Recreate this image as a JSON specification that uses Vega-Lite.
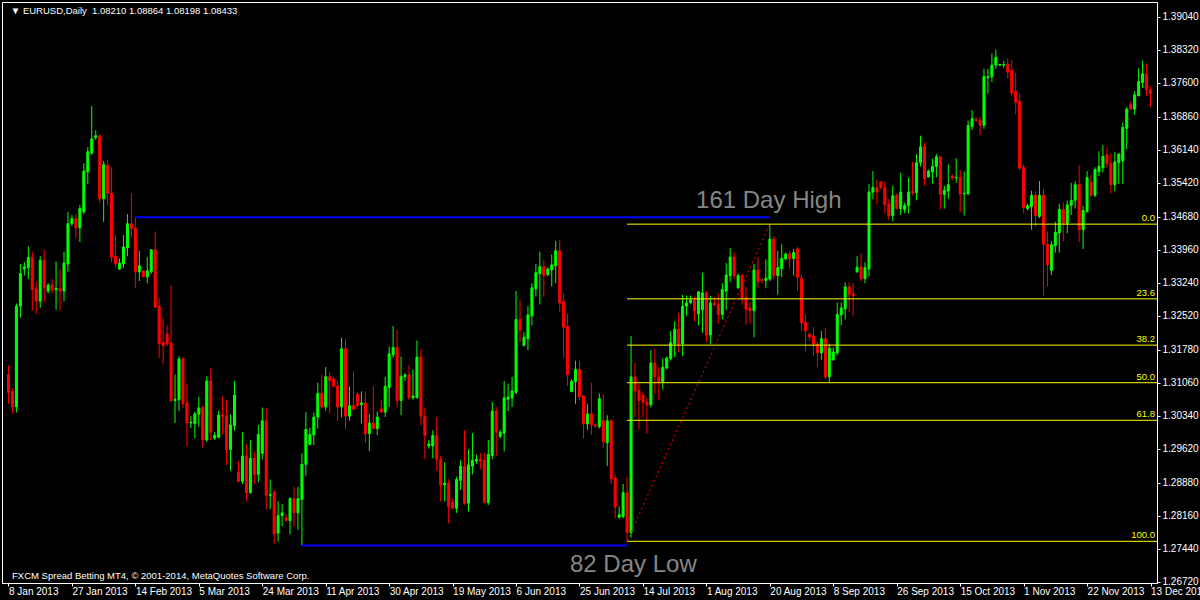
{
"$schema": "https://vega.github.io/schema/vega-lite/v6.json",
"width": 1155,
"height": 581,
"autosize": {"type": "none"},
"padding": {"left": 2, "top": 2, "right": 43, "bottom": 17},
"background": "#000000",
"config": {
  "view": {"stroke": "#ffffff", "strokeWidth": 1, "fill": "#000000"},
  "axis": {"grid": false, "domainColor": "#ffffff", "tickColor": "#ffffff", "labelColor": "#ffffff", "labelFont": "Liberation Sans", "titleColor": "#ffffff", "labelOverlap": false, "labelBound": false, "labelFlush": false},
  "text": {"font": "Liberation Sans"}
},
"datasets": {
"candles": [
{"i":0,"o":1.3124,"h":1.3144,"l":1.3060,"c":1.3085},
{"i":1,"o":1.3087,"h":1.3094,"l":1.3039,"c":1.3053},
{"i":2,"o":1.3053,"h":1.3279,"l":1.3041,"c":1.3273},
{"i":3,"o":1.3273,"h":1.3365,"l":1.3248,"c":1.3344},
{"i":4,"o":1.3354,"h":1.3369,"l":1.3340,"c":1.3359},
{"i":5,"o":1.3357,"h":1.3404,"l":1.3332,"c":1.3379},
{"i":6,"o":1.3379,"h":1.3392,"l":1.3263,"c":1.3309},
{"i":7,"o":1.3311,"h":1.3326,"l":1.3256,"c":1.3284},
{"i":8,"o":1.3284,"h":1.3382,"l":1.3269,"c":1.3373},
{"i":9,"o":1.3373,"h":1.3396,"l":1.3281,"c":1.3313},
{"i":10,"o":1.3306,"h":1.3323,"l":1.3301,"c":1.3319},
{"i":11,"o":1.3319,"h":1.3332,"l":1.3302,"c":1.3309},
{"i":12,"o":1.3309,"h":1.3371,"l":1.3265,"c":1.3312},
{"i":13,"o":1.3312,"h":1.3354,"l":1.3263,"c":1.3306},
{"i":14,"o":1.3306,"h":1.3392,"l":1.3284,"c":1.3367},
{"i":15,"o":1.3365,"h":1.3478,"l":1.3348,"c":1.3453},
{"i":16,"o":1.3453,"h":1.3472,"l":1.3448,"c":1.3464},
{"i":17,"o":1.3464,"h":1.3474,"l":1.3422,"c":1.3444},
{"i":18,"o":1.3444,"h":1.3494,"l":1.3413,"c":1.3486},
{"i":19,"o":1.3479,"h":1.3585,"l":1.3474,"c":1.3568},
{"i":20,"o":1.3566,"h":1.3620,"l":1.3539,"c":1.3610},
{"i":21,"o":1.3607,"h":1.3710,"l":1.3603,"c":1.3638},
{"i":22,"o":1.3641,"h":1.3657,"l":1.3636,"c":1.3645},
{"i":23,"o":1.3645,"h":1.3647,"l":1.3499,"c":1.3507},
{"i":24,"o":1.3507,"h":1.3590,"l":1.3457,"c":1.3582},
{"i":25,"o":1.3580,"h":1.3592,"l":1.3493,"c":1.3519},
{"i":26,"o":1.3519,"h":1.3576,"l":1.3369,"c":1.3380},
{"i":27,"o":1.3382,"h":1.3428,"l":1.3357,"c":1.3365},
{"i":28,"o":1.3354,"h":1.3377,"l":1.3352,"c":1.3367},
{"i":29,"o":1.3365,"h":1.3428,"l":1.3357,"c":1.3402},
{"i":30,"o":1.3400,"h":1.3474,"l":1.3382,"c":1.3453},
{"i":31,"o":1.3453,"h":1.3519,"l":1.3423,"c":1.3442},
{"i":32,"o":1.3443,"h":1.3467,"l":1.3313,"c":1.3348},
{"i":33,"o":1.3348,"h":1.3394,"l":1.3328,"c":1.3361},
{"i":34,"o":1.3350,"h":1.3352,"l":1.3336,"c":1.3337},
{"i":35,"o":1.3337,"h":1.3380,"l":1.3323,"c":1.3350},
{"i":36,"o":1.3348,"h":1.3396,"l":1.3344,"c":1.3396},
{"i":37,"o":1.3396,"h":1.3436,"l":1.3269,"c":1.3271},
{"i":38,"o":1.3273,"h":1.3291,"l":1.3160,"c":1.3191},
{"i":39,"o":1.3194,"h":1.3248,"l":1.3146,"c":1.3187},
{"i":40,"o":1.3212,"h":1.3231,"l":1.3186,"c":1.3191},
{"i":41,"o":1.3192,"h":1.3319,"l":1.3064,"c":1.3067},
{"i":42,"o":1.3067,"h":1.3124,"l":1.3018,"c":1.3070},
{"i":43,"o":1.3069,"h":1.3164,"l":1.3044,"c":1.3158},
{"i":44,"o":1.3158,"h":1.3162,"l":1.3051,"c":1.3060},
{"i":45,"o":1.3062,"h":1.3104,"l":1.2968,"c":1.3018},
{"i":46,"o":1.3018,"h":1.3033,"l":1.3007,"c":1.3020},
{"i":47,"o":1.3017,"h":1.3043,"l":1.2985,"c":1.3038},
{"i":48,"o":1.3037,"h":1.3075,"l":1.3010,"c":1.3051},
{"i":49,"o":1.3052,"h":1.3056,"l":1.2964,"c":1.2981},
{"i":50,"o":1.2981,"h":1.3120,"l":1.2977,"c":1.3110},
{"i":51,"o":1.3110,"h":1.3137,"l":1.2981,"c":1.2998},
{"i":52,"o":1.2985,"h":1.2998,"l":1.2981,"c":1.2991},
{"i":53,"o":1.2987,"h":1.3045,"l":1.2985,"c":1.3035},
{"i":54,"o":1.3035,"h":1.3077,"l":1.2993,"c":1.3033},
{"i":55,"o":1.3034,"h":1.3069,"l":1.2927,"c":1.2960},
{"i":56,"o":1.2960,"h":1.3037,"l":1.2914,"c":1.3014},
{"i":57,"o":1.3012,"h":1.3110,"l":1.3002,"c":1.3079},
{"i":58,"o":1.2911,"h":1.2935,"l":1.2889,"c":1.2891},
{"i":59,"o":1.2891,"h":1.2998,"l":1.2885,"c":1.2946},
{"i":60,"o":1.2946,"h":1.2972,"l":1.2847,"c":1.2866},
{"i":61,"o":1.2866,"h":1.2981,"l":1.2864,"c":1.2941},
{"i":62,"o":1.2941,"h":1.2956,"l":1.2885,"c":1.2906},
{"i":63,"o":1.2906,"h":1.3014,"l":1.2889,"c":1.2993},
{"i":64,"o":1.2952,"h":1.3052,"l":1.2939,"c":1.3023},
{"i":65,"o":1.3023,"h":1.3052,"l":1.2830,"c":1.2860},
{"i":66,"o":1.2860,"h":1.2895,"l":1.2830,"c":1.2862},
{"i":67,"o":1.2866,"h":1.2872,"l":1.2755,"c":1.2776},
{"i":68,"o":1.2778,"h":1.2847,"l":1.2759,"c":1.2816},
{"i":69,"o":1.2816,"h":1.2841,"l":1.2793,"c":1.2822},
{"i":70,"o":1.2811,"h":1.2820,"l":1.2804,"c":1.2805},
{"i":71,"o":1.2805,"h":1.2856,"l":1.2775,"c":1.2853},
{"i":72,"o":1.2853,"h":1.2879,"l":1.2793,"c":1.2822},
{"i":73,"o":1.2822,"h":1.2879,"l":1.2785,"c":1.2853},
{"i":74,"o":1.2851,"h":1.2952,"l":1.2751,"c":1.2928},
{"i":75,"o":1.2928,"h":1.3042,"l":1.2903,"c":1.3004},
{"i":76,"o":1.2971,"h":1.3008,"l":1.2971,"c":1.2993},
{"i":77,"o":1.2992,"h":1.3041,"l":1.2970,"c":1.3031},
{"i":78,"o":1.3031,"h":1.3106,"l":1.3006,"c":1.3083},
{"i":79,"o":1.3083,"h":1.3124,"l":1.3049,"c":1.3053},
{"i":80,"o":1.3053,"h":1.3140,"l":1.3045,"c":1.3119},
{"i":81,"o":1.3119,"h":1.3129,"l":1.3039,"c":1.3110},
{"i":82,"o":1.3114,"h":1.3119,"l":1.3096,"c":1.3098},
{"i":83,"o":1.3099,"h":1.3110,"l":1.3023,"c":1.3053},
{"i":84,"o":1.3053,"h":1.3204,"l":1.3031,"c":1.3180},
{"i":85,"o":1.3180,"h":1.3202,"l":1.3004,"c":1.3033},
{"i":86,"o":1.3033,"h":1.3098,"l":1.3023,"c":1.3056},
{"i":87,"o":1.3056,"h":1.3131,"l":1.3046,"c":1.3048},
{"i":88,"o":1.3081,"h":1.3085,"l":1.3053,"c":1.3056},
{"i":89,"o":1.3058,"h":1.3087,"l":1.3017,"c":1.3062},
{"i":90,"o":1.3062,"h":1.3087,"l":1.2974,"c":1.2995},
{"i":91,"o":1.2995,"h":1.3038,"l":1.2957,"c":1.3018},
{"i":92,"o":1.3018,"h":1.3098,"l":1.3004,"c":1.3006},
{"i":93,"o":1.3006,"h":1.3043,"l":1.2992,"c":1.3031},
{"i":94,"o":1.3049,"h":1.3069,"l":1.3041,"c":1.3042},
{"i":95,"o":1.3042,"h":1.3119,"l":1.3031,"c":1.3098},
{"i":96,"o":1.3096,"h":1.3185,"l":1.3053,"c":1.3169},
{"i":97,"o":1.3167,"h":1.3230,"l":1.3160,"c":1.3183},
{"i":98,"o":1.3183,"h":1.3221,"l":1.3052,"c":1.3067},
{"i":99,"o":1.3067,"h":1.3163,"l":1.3035,"c":1.3120},
{"i":100,"o":1.3119,"h":1.3127,"l":1.3110,"c":1.3123},
{"i":101,"o":1.3123,"h":1.3144,"l":1.3069,"c":1.3073},
{"i":102,"o":1.3073,"h":1.3135,"l":1.3069,"c":1.3077},
{"i":103,"o":1.3073,"h":1.3198,"l":1.3073,"c":1.3162},
{"i":104,"o":1.3162,"h":1.3180,"l":1.3013,"c":1.3033},
{"i":105,"o":1.3033,"h":1.3052,"l":1.2939,"c":1.2991},
{"i":106,"o":1.2968,"h":1.2981,"l":1.2962,"c":1.2972},
{"i":107,"o":1.2968,"h":1.3002,"l":1.2941,"c":1.2991},
{"i":108,"o":1.2991,"h":1.3031,"l":1.2914,"c":1.2939},
{"i":109,"o":1.2939,"h":1.2947,"l":1.2847,"c":1.2883},
{"i":110,"o":1.2883,"h":1.2933,"l":1.2847,"c":1.2887},
{"i":111,"o":1.2887,"h":1.2895,"l":1.2799,"c":1.2835},
{"i":112,"o":1.2845,"h":1.2853,"l":1.2830,"c":1.2832},
{"i":113,"o":1.2832,"h":1.2901,"l":1.2822,"c":1.2895},
{"i":114,"o":1.2893,"h":1.2937,"l":1.2872,"c":1.2924},
{"i":115,"o":1.2924,"h":1.3002,"l":1.2840,"c":1.2843},
{"i":116,"o":1.2843,"h":1.2960,"l":1.2825,"c":1.2927},
{"i":117,"o":1.2924,"h":1.2996,"l":1.2906,"c":1.2937},
{"i":118,"o":1.2935,"h":1.2949,"l":1.2929,"c":1.2939},
{"i":119,"o":1.2939,"h":1.2953,"l":1.2918,"c":1.2935},
{"i":120,"o":1.2937,"h":1.2953,"l":1.2843,"c":1.2845},
{"i":121,"o":1.2845,"h":1.2981,"l":1.2839,"c":1.2950},
{"i":122,"o":1.2947,"h":1.3064,"l":1.2939,"c":1.3044},
{"i":123,"o":1.3044,"h":1.3053,"l":1.2946,"c":1.2998},
{"i":124,"o":1.2989,"h":1.3003,"l":1.2985,"c":1.2998},
{"i":125,"o":1.2996,"h":1.3110,"l":1.2956,"c":1.3073},
{"i":126,"o":1.3070,"h":1.3104,"l":1.3044,"c":1.3075},
{"i":127,"o":1.3073,"h":1.3119,"l":1.3053,"c":1.3088},
{"i":128,"o":1.3085,"h":1.3306,"l":1.3081,"c":1.3244},
{"i":129,"o":1.3244,"h":1.3286,"l":1.3194,"c":1.3221},
{"i":130,"o":1.3187,"h":1.3216,"l":1.3186,"c":1.3205},
{"i":131,"o":1.3202,"h":1.3273,"l":1.3177,"c":1.3254},
{"i":132,"o":1.3252,"h":1.3323,"l":1.3231,"c":1.3313},
{"i":133,"o":1.3311,"h":1.3365,"l":1.3294,"c":1.3346},
{"i":134,"o":1.3344,"h":1.3392,"l":1.3277,"c":1.3359},
{"i":135,"o":1.3359,"h":1.3373,"l":1.3294,"c":1.3340},
{"i":136,"o":1.3342,"h":1.3358,"l":1.3338,"c":1.3354},
{"i":137,"o":1.3352,"h":1.3386,"l":1.3316,"c":1.3363},
{"i":138,"o":1.3361,"h":1.3415,"l":1.3323,"c":1.3394},
{"i":139,"o":1.3394,"h":1.3418,"l":1.3261,"c":1.3280},
{"i":140,"o":1.3283,"h":1.3301,"l":1.3160,"c":1.3227},
{"i":141,"o":1.3229,"h":1.3256,"l":1.3099,"c":1.3123},
{"i":142,"o":1.3087,"h":1.3114,"l":1.3085,"c":1.3109},
{"i":143,"o":1.3108,"h":1.3154,"l":1.3060,"c":1.3135},
{"i":144,"o":1.3135,"h":1.3154,"l":1.3067,"c":1.3075},
{"i":145,"o":1.3077,"h":1.3079,"l":1.2985,"c":1.3017},
{"i":146,"o":1.3016,"h":1.3060,"l":1.3003,"c":1.3038},
{"i":147,"o":1.3038,"h":1.3106,"l":1.2992,"c":1.3014},
{"i":148,"o":1.3014,"h":1.3018,"l":1.3007,"c":1.3012},
{"i":149,"o":1.3010,"h":1.3083,"l":1.3006,"c":1.3071},
{"i":150,"o":1.3023,"h":1.3081,"l":1.2964,"c":1.2977},
{"i":151,"o":1.2975,"h":1.3035,"l":1.2924,"c":1.3023},
{"i":152,"o":1.3023,"h":1.3026,"l":1.2885,"c":1.2896},
{"i":153,"o":1.2898,"h":1.2906,"l":1.2810,"c":1.2835},
{"i":154,"o":1.2812,"h":1.2836,"l":1.2810,"c":1.2818},
{"i":155,"o":1.2814,"h":1.2885,"l":1.2810,"c":1.2866},
{"i":156,"o":1.2866,"h":1.2901,"l":1.2760,"c":1.2779},
{"i":157,"o":1.2779,"h":1.3208,"l":1.2768,"c":1.3119},
{"i":158,"o":1.3119,"h":1.3149,"l":1.3031,"c":1.3088},
{"i":159,"o":1.3089,"h":1.3104,"l":1.3004,"c":1.3067},
{"i":160,"o":1.3079,"h":1.3085,"l":1.3029,"c":1.3063},
{"i":161,"o":1.3064,"h":1.3073,"l":1.2995,"c":1.3058},
{"i":162,"o":1.3058,"h":1.3177,"l":1.3052,"c":1.3149},
{"i":163,"o":1.3149,"h":1.3180,"l":1.3081,"c":1.3119},
{"i":164,"o":1.3119,"h":1.3140,"l":1.3067,"c":1.3108},
{"i":165,"o":1.3108,"h":1.3159,"l":1.3091,"c":1.3140},
{"i":166,"o":1.3138,"h":1.3163,"l":1.3135,"c":1.3160},
{"i":167,"o":1.3159,"h":1.3219,"l":1.3154,"c":1.3194},
{"i":168,"o":1.3191,"h":1.3240,"l":1.3162,"c":1.3223},
{"i":169,"o":1.3223,"h":1.3258,"l":1.3173,"c":1.3190},
{"i":170,"o":1.3191,"h":1.3298,"l":1.3164,"c":1.3273},
{"i":171,"o":1.3273,"h":1.3296,"l":1.3252,"c":1.3280},
{"i":172,"o":1.3281,"h":1.3296,"l":1.3277,"c":1.3286},
{"i":173,"o":1.3286,"h":1.3294,"l":1.3240,"c":1.3263},
{"i":174,"o":1.3256,"h":1.3306,"l":1.3231,"c":1.3304},
{"i":175,"o":1.3265,"h":1.3346,"l":1.3215,"c":1.3302},
{"i":176,"o":1.3302,"h":1.3306,"l":1.3195,"c":1.3210},
{"i":177,"o":1.3210,"h":1.3296,"l":1.3190,"c":1.3280},
{"i":178,"o":1.3280,"h":1.3292,"l":1.3273,"c":1.3276},
{"i":179,"o":1.3277,"h":1.3301,"l":1.3235,"c":1.3255},
{"i":180,"o":1.3255,"h":1.3323,"l":1.3244,"c":1.3309},
{"i":181,"o":1.3306,"h":1.3367,"l":1.3265,"c":1.3341},
{"i":182,"o":1.3340,"h":1.3400,"l":1.3326,"c":1.3380},
{"i":183,"o":1.3380,"h":1.3390,"l":1.3332,"c":1.3340},
{"i":184,"o":1.3313,"h":1.3344,"l":1.3311,"c":1.3340},
{"i":185,"o":1.3340,"h":1.3344,"l":1.3276,"c":1.3291},
{"i":186,"o":1.3292,"h":1.3315,"l":1.3233,"c":1.3266},
{"i":187,"o":1.3269,"h":1.3281,"l":1.3235,"c":1.3263},
{"i":188,"o":1.3263,"h":1.3365,"l":1.3205,"c":1.3352},
{"i":189,"o":1.3352,"h":1.3380,"l":1.3313,"c":1.3326},
{"i":190,"o":1.3331,"h":1.3334,"l":1.3323,"c":1.3329},
{"i":191,"o":1.3329,"h":1.3375,"l":1.3313,"c":1.3334},
{"i":192,"o":1.3332,"h":1.3452,"l":1.3328,"c":1.3419},
{"i":193,"o":1.3419,"h":1.3426,"l":1.3332,"c":1.3340},
{"i":194,"o":1.3340,"h":1.3394,"l":1.3298,"c":1.3357},
{"i":195,"o":1.3355,"h":1.3408,"l":1.3336,"c":1.3377},
{"i":196,"o":1.3376,"h":1.3390,"l":1.3373,"c":1.3387},
{"i":197,"o":1.3387,"h":1.3394,"l":1.3355,"c":1.3376},
{"i":198,"o":1.3377,"h":1.3398,"l":1.3340,"c":1.3390},
{"i":199,"o":1.3398,"h":1.3402,"l":1.3306,"c":1.3336},
{"i":200,"o":1.3334,"h":1.3341,"l":1.3219,"c":1.3237},
{"i":201,"o":1.3238,"h":1.3256,"l":1.3174,"c":1.3219},
{"i":202,"o":1.3212,"h":1.3216,"l":1.3198,"c":1.3206},
{"i":203,"o":1.3208,"h":1.3227,"l":1.3164,"c":1.3190},
{"i":204,"o":1.3190,"h":1.3195,"l":1.3140,"c":1.3171},
{"i":205,"o":1.3171,"h":1.3219,"l":1.3156,"c":1.3202},
{"i":206,"o":1.3202,"h":1.3225,"l":1.3114,"c":1.3119},
{"i":207,"o":1.3119,"h":1.3191,"l":1.3106,"c":1.3181},
{"i":208,"o":1.3156,"h":1.3183,"l":1.3154,"c":1.3173},
{"i":209,"o":1.3171,"h":1.3281,"l":1.3166,"c":1.3255},
{"i":210,"o":1.3254,"h":1.3281,"l":1.3231,"c":1.3269},
{"i":211,"o":1.3267,"h":1.3325,"l":1.3244,"c":1.3315},
{"i":212,"o":1.3315,"h":1.3325,"l":1.3261,"c":1.3298},
{"i":213,"o":1.3300,"h":1.3323,"l":1.3252,"c":1.3296},
{"i":214,"o":1.3348,"h":1.3382,"l":1.3346,"c":1.3358},
{"i":215,"o":1.3358,"h":1.3388,"l":1.3328,"c":1.3333},
{"i":216,"o":1.3333,"h":1.3369,"l":1.3323,"c":1.3357},
{"i":217,"o":1.3354,"h":1.3540,"l":1.3338,"c":1.3522},
{"i":218,"o":1.3522,"h":1.3568,"l":1.3507,"c":1.3532},
{"i":219,"o":1.3532,"h":1.3549,"l":1.3496,"c":1.3522},
{"i":220,"o":1.3544,"h":1.3546,"l":1.3528,"c":1.3532},
{"i":221,"o":1.3532,"h":1.3545,"l":1.3476,"c":1.3494},
{"i":222,"o":1.3496,"h":1.3507,"l":1.3461,"c":1.3471},
{"i":223,"o":1.3471,"h":1.3536,"l":1.3458,"c":1.3514},
{"i":224,"o":1.3515,"h":1.3519,"l":1.3484,"c":1.3486},
{"i":225,"o":1.3486,"h":1.3564,"l":1.3472,"c":1.3522},
{"i":226,"o":1.3484,"h":1.3499,"l":1.3476,"c":1.3493},
{"i":227,"o":1.3493,"h":1.3554,"l":1.3475,"c":1.3522},
{"i":228,"o":1.3524,"h":1.3588,"l":1.3515,"c":1.3521},
{"i":229,"o":1.3521,"h":1.3605,"l":1.3504,"c":1.3586},
{"i":230,"o":1.3586,"h":1.3645,"l":1.3578,"c":1.3621},
{"i":231,"o":1.3621,"h":1.3630,"l":1.3536,"c":1.3551},
{"i":232,"o":1.3555,"h":1.3571,"l":1.3554,"c":1.3568},
{"i":233,"o":1.3566,"h":1.3595,"l":1.3540,"c":1.3578},
{"i":234,"o":1.3578,"h":1.3605,"l":1.3554,"c":1.3599},
{"i":235,"o":1.3599,"h":1.3600,"l":1.3484,"c":1.3517},
{"i":236,"o":1.3517,"h":1.3536,"l":1.3486,"c":1.3526},
{"i":237,"o":1.3524,"h":1.3582,"l":1.3507,"c":1.3538},
{"i":238,"o":1.3557,"h":1.3561,"l":1.3549,"c":1.3553},
{"i":239,"o":1.3553,"h":1.3596,"l":1.3542,"c":1.3554},
{"i":240,"o":1.3554,"h":1.3571,"l":1.3478,"c":1.3518},
{"i":241,"o":1.3518,"h":1.3567,"l":1.3471,"c":1.3519},
{"i":242,"o":1.3518,"h":1.3678,"l":1.3515,"c":1.3667},
{"i":243,"o":1.3665,"h":1.3701,"l":1.3657,"c":1.3682},
{"i":244,"o":1.3680,"h":1.3685,"l":1.3676,"c":1.3678},
{"i":245,"o":1.3678,"h":1.3686,"l":1.3647,"c":1.3668},
{"i":246,"o":1.3668,"h":1.3791,"l":1.3660,"c":1.3774},
{"i":247,"o":1.3772,"h":1.3791,"l":1.3737,"c":1.3774},
{"i":248,"o":1.3774,"h":1.3824,"l":1.3762,"c":1.3799},
{"i":249,"o":1.3799,"h":1.3833,"l":1.3791,"c":1.3816},
{"i":250,"o":1.3799,"h":1.3802,"l":1.3797,"c":1.3800},
{"i":251,"o":1.3799,"h":1.3808,"l":1.3793,"c":1.3800},
{"i":252,"o":1.3801,"h":1.3814,"l":1.3770,"c":1.3784},
{"i":253,"o":1.3787,"h":1.3810,"l":1.3732,"c":1.3738},
{"i":254,"o":1.3741,"h":1.3782,"l":1.3692,"c":1.3718},
{"i":255,"o":1.3720,"h":1.3737,"l":1.3571,"c":1.3574},
{"i":256,"o":1.3576,"h":1.3582,"l":1.3476,"c":1.3488},
{"i":257,"o":1.3486,"h":1.3496,"l":1.3482,"c":1.3492},
{"i":258,"o":1.3490,"h":1.3525,"l":1.3440,"c":1.3515},
{"i":259,"o":1.3515,"h":1.3524,"l":1.3447,"c":1.3471},
{"i":260,"o":1.3469,"h":1.3546,"l":1.3465,"c":1.3515},
{"i":261,"o":1.3515,"h":1.3529,"l":1.3296,"c":1.3408},
{"i":262,"o":1.3408,"h":1.3436,"l":1.3316,"c":1.3363},
{"i":263,"o":1.3351,"h":1.3415,"l":1.3341,"c":1.3407},
{"i":264,"o":1.3405,"h":1.3457,"l":1.3390,"c":1.3434},
{"i":265,"o":1.3433,"h":1.3496,"l":1.3390,"c":1.3484},
{"i":266,"o":1.3484,"h":1.3499,"l":1.3415,"c":1.3454},
{"i":267,"o":1.3454,"h":1.3504,"l":1.3432,"c":1.3494},
{"i":268,"o":1.3493,"h":1.3542,"l":1.3472,"c":1.3504},
{"i":269,"o":1.3504,"h":1.3546,"l":1.3486,"c":1.3538},
{"i":270,"o":1.3538,"h":1.3580,"l":1.3413,"c":1.3440},
{"i":271,"o":1.3440,"h":1.3492,"l":1.3398,"c":1.3482},
{"i":272,"o":1.3479,"h":1.3568,"l":1.3478,"c":1.3554},
{"i":273,"o":1.3543,"h":1.3559,"l":1.3511,"c":1.3515},
{"i":274,"o":1.3515,"h":1.3576,"l":1.3511,"c":1.3571},
{"i":275,"o":1.3567,"h":1.3611,"l":1.3557,"c":1.3578},
{"i":276,"o":1.3575,"h":1.3624,"l":1.3565,"c":1.3600},
{"i":277,"o":1.3603,"h":1.3620,"l":1.3576,"c":1.3584},
{"i":278,"o":1.3584,"h":1.3607,"l":1.3519,"c":1.3538},
{"i":279,"o":1.3538,"h":1.3609,"l":1.3524,"c":1.3588},
{"i":280,"o":1.3586,"h":1.3607,"l":1.3540,"c":1.3605},
{"i":281,"o":1.3590,"h":1.3674,"l":1.3540,"c":1.3663},
{"i":282,"o":1.3661,"h":1.3707,"l":1.3615,"c":1.3703},
{"i":283,"o":1.3713,"h":1.3720,"l":1.3701,"c":1.3703},
{"i":284,"o":1.3703,"h":1.3742,"l":1.3691,"c":1.3734},
{"i":285,"o":1.3732,"h":1.3792,"l":1.3731,"c":1.3763},
{"i":286,"o":1.3761,"h":1.3809,"l":1.3749,"c":1.3780},
{"i":287,"o":1.3780,"h":1.3801,"l":1.3732,"c":1.3745},
{"i":288,"o":1.3745,"h":1.3753,"l":1.3707,"c":1.3737}
],
"extremes": [
{"name":"161 Day High","from":32,"to":192,"price":1.3467},
{"name":"82 Day Low","from":74,"to":156,"price":1.2751}
],
"fib": [
{"level":"0.0","from":156,"price":1.3452},
{"level":"23.6","from":156,"price":1.3289},
{"level":"38.2","from":156,"price":1.3188},
{"level":"50.0","from":156,"price":1.3106},
{"level":"61.8","from":156,"price":1.3024},
{"level":"100.0","from":156,"price":1.2760}
],
"trend": [
{"i1":156,"p1":1.2760,"i2":192,"p2":1.3452}
],
"notes": [
{"text":"161 Day High","i":173.4,"p":1.3487},
{"text":"82 Day Low","i":141.6,"p":1.2693}
],
"info": [
{"text":"▼ EURUSD,Daily\u00a0 1.08210 1.08864 1.08198 1.08433","i":0.6,"p":1.3910},
{"text":"FXCM Spread Betting MT4, © 2001-2014, MetaQuotes Software Corp.","i":0.9,"p":1.2678}
]
},
"layer": [
{
  "data": {"name": "candles"},
  "mark": {"type": "rule", "strokeWidth": 1},
  "encoding": {
    "x": {"field": "i", "type": "quantitative", "title": null,
      "scale": {"domain": [-0.375, 288.375], "nice": false, "zero": false},
      "axis": {"orient": "bottom", "values": [0,16,32,48,64,80,96,112,128,144,160,176,192,208,224,240,256,272,288], "tickCount": 40,
        "labelExpr": "['8 Jan 2013','27 Jan 2013','14 Feb 2013','5 Mar 2013','24 Mar 2013','11 Apr 2013','30 Apr 2013','19 May 2013','6 Jun 2013','25 Jun 2013','14 Jul 2013','1 Aug 2013','20 Aug 2013','8 Sep 2013','26 Sep 2013','15 Oct 2013','1 Nov 2013','22 Nov 2013','13 Dec 2013'][round(datum.value/16)]",
        "labelAlign": "left", "labelBaseline": "top", "labelFontSize": 10, "labelPadding": 0, "labelDx": -1,
        "tickSize": 3, "labelFlush": false, "labelOverlap": false, "labelBound": false, "domain": true}},
    "y": {"field": "l", "type": "quantitative", "title": null,
      "scale": {"domain": [1.2669, 1.39367], "nice": false, "zero": false},
      "axis": {"orient": "right", "values": [1.2672,1.2744,1.2816,1.2888,1.2962,1.3034,1.3106,1.3178,1.3252,1.3324,1.3396,1.3468,1.3542,1.3614,1.3686,1.376,1.3832,1.3904], "tickCount": 40,
        "format": ".5f", "labelFontSize": 10, "labelPadding": 2, "tickSize": 3, "labelAlign": "left", "labelBaseline": "middle", "labelOverlap": false, "labelBound": false, "labelFlush": false}},
    "y2": {"field": "h"},
    "color": {"condition": {"test": "datum.c >= datum.o", "value": "#00ff00"}, "value": "#ff0000"}
  }
},
{
  "data": {"name": "candles"},
  "mark": {"type": "bar", "size": 2, "strokeWidth": 1},
  "encoding": {
    "x": {"field": "i", "type": "quantitative", "title": null, "scale": {"domain": [-0.375, 288.375], "nice": false, "zero": false}},
    "y": {"field": "o", "type": "quantitative", "title": null, "scale": {"domain": [1.2669, 1.39367], "nice": false, "zero": false}},
    "y2": {"field": "c"},
    "color": {"condition": {"test": "datum.c >= datum.o", "value": "#00ff00"}, "value": "#ff0000"},
    "stroke": {"condition": {"test": "datum.c >= datum.o", "value": "#00ff00"}, "value": "#ff0000"}
  }
},
{
  "data": {"name": "fib"},
  "mark": {"type": "rule", "color": "#ffff00", "strokeWidth": 1},
  "encoding": {
    "x": {"field": "from", "type": "quantitative", "title": null, "scale": {"domain": [-0.375, 288.375], "nice": false, "zero": false}},
    "x2": {"value": "width"},
    "y": {"field": "price", "type": "quantitative", "title": null, "scale": {"domain": [1.2669, 1.39367], "nice": false, "zero": false}}
  }
},
{
  "data": {"name": "fib"},
  "mark": {"type": "text", "color": "#ffff00", "fontSize": 9.5, "align": "right", "baseline": "bottom", "dx": -2, "dy": -1},
  "encoding": {
    "x": {"value": "width"},
    "y": {"field": "price", "type": "quantitative", "title": null, "scale": {"domain": [1.2669, 1.39367], "nice": false, "zero": false}},
    "text": {"field": "level"}
  }
},
{
  "data": {"name": "extremes"},
  "mark": {"type": "rule", "color": "#0000ff", "strokeWidth": 2},
  "encoding": {
    "x": {"field": "from", "type": "quantitative", "title": null, "scale": {"domain": [-0.375, 288.375], "nice": false, "zero": false}},
    "x2": {"field": "to"},
    "y": {"field": "price", "type": "quantitative", "title": null, "scale": {"domain": [1.2669, 1.39367], "nice": false, "zero": false}}
  }
},
{
  "data": {"name": "trend"},
  "mark": {"type": "rule", "color": "#ff0000", "strokeWidth": 1, "strokeDash": [2, 3]},
  "encoding": {
    "x": {"field": "i1", "type": "quantitative", "title": null, "scale": {"domain": [-0.375, 288.375], "nice": false, "zero": false}},
    "x2": {"field": "i2"},
    "y": {"field": "p1", "type": "quantitative", "title": null, "scale": {"domain": [1.2669, 1.39367], "nice": false, "zero": false}},
    "y2": {"field": "p2"}
  }
},
{
  "data": {"name": "notes"},
  "mark": {"type": "text", "color": "#868686", "fontSize": 24, "align": "left", "baseline": "alphabetic"},
  "encoding": {
    "x": {"field": "i", "type": "quantitative", "title": null, "scale": {"domain": [-0.375, 288.375], "nice": false, "zero": false}},
    "y": {"field": "p", "type": "quantitative", "title": null, "scale": {"domain": [1.2669, 1.39367], "nice": false, "zero": false}},
    "text": {"field": "text"}
  }
},
{
  "data": {"name": "info"},
  "mark": {"type": "text", "color": "#ffffff", "fontSize": 9.5, "align": "left", "baseline": "alphabetic"},
  "encoding": {
    "x": {"field": "i", "type": "quantitative", "title": null, "scale": {"domain": [-0.375, 288.375], "nice": false, "zero": false}},
    "y": {"field": "p", "type": "quantitative", "title": null, "scale": {"domain": [1.2669, 1.39367], "nice": false, "zero": false}},
    "text": {"field": "text"}
  }
}
]
}
